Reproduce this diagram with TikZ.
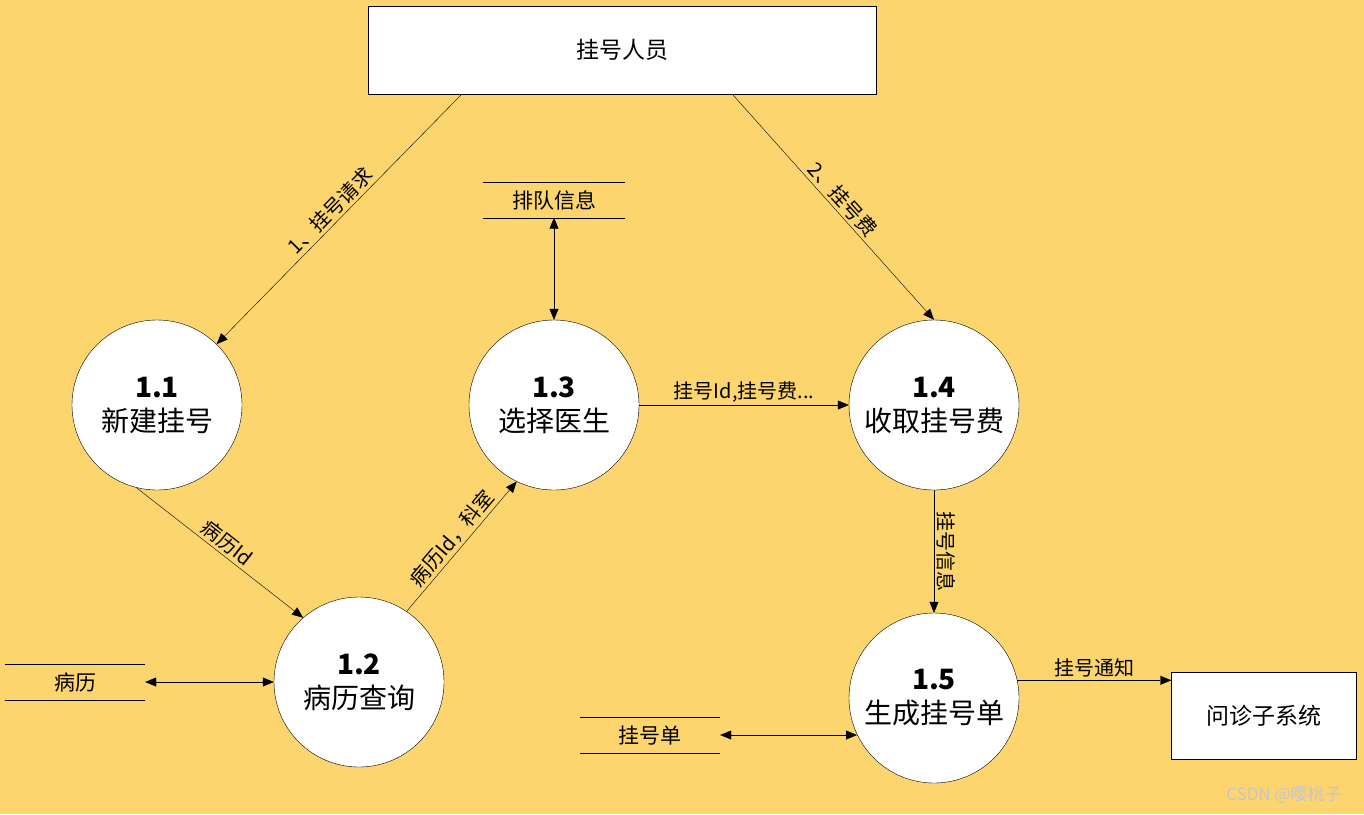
\documentclass[tikz,border=0pt]{standalone}
\usepackage{fontspec}
\setmainfont{Noto Sans CJK SC}
\usetikzlibrary{arrows.meta}
\definecolor{bg}{HTML}{FDD56F}
\begin{document}
\begin{tikzpicture}[x=1pt,y=-1pt,
  proc/.style={circle,draw,fill=white,minimum size=170pt,inner sep=0pt,align=center,font=\fontsize{28}{34}\selectfont},
  ext/.style={draw,fill=white,font=\fontsize{23}{27}\selectfont},
  flow/.style={-{Triangle[length=11pt,width=9pt]}},
  bflow/.style={{Triangle[length=11pt,width=9pt]}-{Triangle[length=11pt,width=9pt]}},
  lbl/.style={font=\fontsize{20}{23}\selectfont,inner sep=3pt},
  store/.style={font=\fontsize{21}{25}\selectfont}]
\fill[bg] (0,0) rectangle (1364,814);
\useasboundingbox (0,0) rectangle (1364,814);
\node[ext,minimum width=508pt,minimum height=88pt] (top) at (622,50) {挂号人员};
\node[ext,minimum width=185pt,minimum height=87pt] (wz) at (1264,716) {问诊子系统};
\node[proc] (p11) at (157,405) {\textbf{1.1}\\新建挂号};
\node[proc] (p12) at (359,682) {\textbf{1.2}\\病历查询};
\node[proc] (p13) at (554,405) {\textbf{1.3}\\选择医生};
\node[proc] (p14) at (934,405) {\textbf{1.4}\\收取挂号费};
\node[proc] (p15) at (934,698) {\textbf{1.5}\\生成挂号单};
% stores
\node[store,minimum width=141pt,minimum height=35pt,inner sep=0pt] (pd) at (554,200) {排队信息};
\draw (pd.north west)--(pd.north east) (pd.south west)--(pd.south east);
\node[store,minimum width=140pt,minimum height=35pt,inner sep=0pt] (bl) at (75,682) {病历};
\draw (bl.north west)--(bl.north east) (bl.south west)--(bl.south east);
\node[store,minimum width=140pt,minimum height=35pt,inner sep=0pt] (gd) at (650,735) {挂号单};
\draw (gd.north west)--(gd.north east) (gd.south west)--(gd.south east);
% flows
\coordinate (t1) at (461,95); \coordinate (t2) at (733,95);
\coordinate (g5) at (857,735);
\draw[flow] (t1) -- (p11) node[pos=0.5,lbl,sloped,above] {1、挂号请求};
\draw[flow] (t2) -- (p14.north) node[pos=0.5,lbl,sloped,above] {2、挂号费};
\draw[bflow] (pd.south) -- (p13.north);
\draw[flow] (p13.east) -- (p14.west) node[midway,lbl,above] {挂号Id,挂号费...};
\draw[flow] (p11.-104) -- (p12.131) node[midway,lbl,sloped,above] {病历Id};
\draw[flow] (p12.56) -- (p13.-116) node[midway,lbl,sloped,above] {病历Id，科室};
\draw[bflow] (bl.east) -- (p12.west);
\draw[flow] (p14.south) -- (p15.north) node[midway,lbl,sloped,above] {挂号信息};
\draw[bflow] (gd.east) -- (g5);
\draw[flow] (p15.12) -- (wz.west |- p15.12) node[midway,lbl,above] {挂号通知};
\node[font=\fontsize{17}{19}\selectfont,text=white!55!gray] (wm) at (1284,795) {CSDN @嘤桃子};
\end{tikzpicture}
\end{document}
